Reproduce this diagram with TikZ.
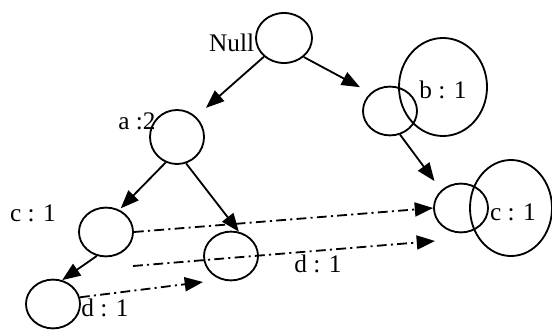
\documentclass[tikz,border=0pt]{standalone}
\usepackage{fontspec}
\setmainfont{Liberation Serif}
\usetikzlibrary{shapes.geometric,arrows.meta}

\begin{document}
\begin{tikzpicture}[x=0.025cm, y=-0.025cm, line width=1.3pt,
        main/.style = {draw, ellipse, inner sep=0pt, minimum width=1.35cm, minimum height=1.22cm},
        big/.style = {draw, ellipse, inner sep=0pt},
        lbl/.style = {inner sep=0pt, font=\fontsize{18}{20}\selectfont},
        dd/.style = {dash pattern=on 7pt off 3pt on 1.5pt off 3pt},
        arr/.style = {-{Triangle[length=13pt, width=10pt]}}]
        \useasboundingbox (0,0) rectangle (552,329);

        \node[main, minimum width=1.4cm, minimum height=1.25cm] (null) at (284,38) {};
        \node[main] (b1) at (390,111) {};
        \node[big, minimum width=2.2cm, minimum height=2.45cm] (b2) at (443,87) {};
        \node[main, minimum height=1.35cm] (a) at (177,137) {};
        \node[main] (c1) at (106,232) {};
        \node[main] (d1) at (53,304) {};
        \node[main] (d2) at (231,256) {};
        \node[main] (c2) at (461,208) {};
        \node[big, minimum width=2.05cm, minimum height=2.4cm] (c3) at (511,208) {};

        \node[lbl, anchor=east] (nulltxt) at (255,43) {Null};
        \node[lbl] (btxt) at (443,90) {b : 1};
        \node[lbl] (atxt) at (137,121) {a :2};
        \node[lbl] (ctxt) at (33,213) {c : 1};
        \node[lbl] (dtxt) at (105,308) {d : 1};
        \node[lbl] (dtxt2) at (318,264) {d : 1};
        \node[lbl] (ctxt2) at (513,212) {c : 1};

        \coordinate (ds) at (133,266);
        \coordinate (de) at (435,241);
        \coordinate (dtip) at (203,282);

        \path[arr] (null.-137) edge [shorten >=0.33cm] (a.47);
        \path[arr] (null.-44) edge [shorten >=0.3cm] (b1.137);

        \path[arr] (a.246) edge [shorten >=0.05cm] (c1.59);
        \path[arr] (a.-71) edge (d2.72);

        \path[arr] (c1.-111) edge (d1.69);
        \path[arr] (b1.-67) edge [shorten >=0.28cm] (c2.138);

        \path[arr] (c1.east) edge [dd] (c2.west);
        \path[arr] (ds) edge [dd] (de);
        \path[arr] (d1.14) edge [dd] (dtip);

    \end{tikzpicture}
\end{document}
